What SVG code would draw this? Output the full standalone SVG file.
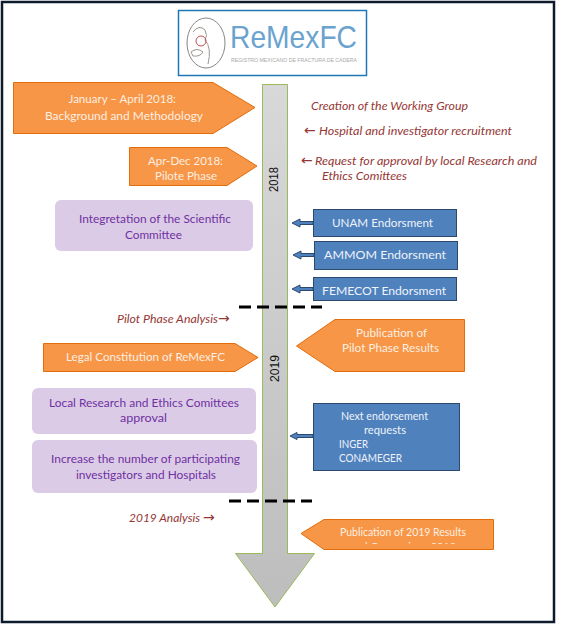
<svg xmlns="http://www.w3.org/2000/svg" width="571" height="624" viewBox="0 0 571 624">
<style>
text{font-family:Lato,"Liberation Sans",sans-serif;font-size:11.500px;text-anchor:start}
.o{fill:#f79646;stroke:#e46c0a;stroke-width:1}
.ot{fill:#fdeee2}
.p{fill:#dbcbe7}
.pt{fill:#7030a0}
.b{fill:#4f81bd;stroke:#2c4a6e;stroke-width:1}
.bt{fill:#eef3fa}
.r{fill:#953735;font-style:italic}
.ar{fill:#953735;font-family:"DejaVu Sans",sans-serif;font-size:14px}
.a{fill:#4f81bd;stroke:#2c4a6e;stroke-width:1}
.d{stroke:#000;stroke-width:3;stroke-dasharray:12 6;fill:none}
.y{fill:#111;font-family:"Liberation Sans",sans-serif;font-size:13px}
</style>
<defs>
<linearGradient id="g" x1="0" y1="0" x2="0" y2="1"><stop offset="0" stop-color="#d8d8d8"/><stop offset="1" stop-color="#bdbdbd"/></linearGradient>
<clipPath id="c"><rect x="300" y="519" width="190" height="25"/></clipPath>
</defs>
<rect width="571" height="624" fill="#fff"/>
<rect x="2" y="2" width="552" height="620" fill="none" stroke="#0d1b2a" stroke-width="2.500"/>
<g id="logo">
<rect x="178.500" y="10.500" width="188" height="65" fill="#fff" stroke="#1f77b8" stroke-width="1.500"/>
<ellipse cx="206" cy="43" rx="19" ry="25" fill="none" stroke="#8a8580"/>
<path d="M193 32q6-8 12-2q3 6 0 10q7 8 3 24M191 52q6-5 12 0q-3 5-10 4z" fill="none" stroke="#9a9590"/>
<circle cx="201" cy="41" r="5" fill="none" stroke="#c0504d"/>
<text x="230" y="48" textLength="127" lengthAdjust="spacingAndGlyphs" style="font-size:32px;fill:#6ba3cf;font-family:'Liberation Sans',sans-serif">ReMexFC</text>
<text x="231" y="62" textLength="126" lengthAdjust="spacingAndGlyphs" style="font-size:6px;fill:#a8a8a8;font-family:'Liberation Sans',sans-serif">REGISTRO MEXICANO DE FRACTURA DE CADERA</text>
</g>
<g id="timeline">
<path d="M262.500 84.500H287.500V553.500H314.500L275 607L235.500 553.500H262.500Z" fill="url(#g)" stroke="#9bbb59"/>
<text class="y" transform="translate(278 192) rotate(-90)" textLength="25" lengthAdjust="spacingAndGlyphs">2018</text>
<text class="y" transform="translate(279 382) rotate(-90)" textLength="27" lengthAdjust="spacingAndGlyphs">2019</text>
</g>
<g id="connectors">
<path class="d" d="M239 307H322"/>
<path class="d" d="M229 501H312"/>
<path class="a" d="M313 221.500H300V219L292 223L300 227V224.500H313Z"/>
<path class="a" d="M314 253.500H301V251L293 255L301 259V256.500H314Z"/>
<path class="a" d="M313 287.500H300V285L292 289L300 293V290.500H313Z"/>
<path class="a" d="M313 434.500H297V432.500L290 436L297 439.500V437.500H313Z"/>
</g>
<g id="n1"><path class="o" d="M13.500 82.500H213L255 107.500L213 133.500H13.500Z"/>
<text class="ot" x="68.500" y="103" textLength="107.500" lengthAdjust="spacingAndGlyphs">January – April 2018:</text><text class="ot" x="45" y="120" textLength="158" lengthAdjust="spacingAndGlyphs">Background and Methodology</text></g>
<g id="n2"><path class="o" d="M129.500 147.500H227L257 166L227 185.500H129.500Z"/>
<text class="ot" x="148" y="165" textLength="75" lengthAdjust="spacingAndGlyphs">Apr-Dec 2018:</text><text class="ot" x="155" y="180" textLength="62" lengthAdjust="spacingAndGlyphs">Pilote Phase</text></g>
<g id="n3"><rect class="p" x="55" y="200" width="198" height="51" rx="6"/>
<text class="pt" x="79" y="223" textLength="152" lengthAdjust="spacingAndGlyphs">Integretation of the Scientific</text><text class="pt" x="125" y="239" textLength="57" lengthAdjust="spacingAndGlyphs">Committee</text></g>
<g id="n4"><text class="r" x="311" y="110" textLength="157" lengthAdjust="spacingAndGlyphs">Creation of the Working Group</text></g>
<g id="n5"><text class="ar" x="304" y="135">←</text><text class="r" x="319" y="135" textLength="193" lengthAdjust="spacingAndGlyphs">Hospital and investigator recruitment</text></g>
<g id="n6"><text class="ar" x="301" y="165">←</text><text class="r" x="315" y="165" textLength="222" lengthAdjust="spacingAndGlyphs">Request for approval by local Research and</text><text class="r" x="322" y="180" textLength="85" lengthAdjust="spacingAndGlyphs">Ethics Comittees</text></g>
<g id="n7"><rect class="b" x="313.500" y="209.500" width="143" height="27"/><text class="bt" x="332" y="227" textLength="101" lengthAdjust="spacingAndGlyphs">UNAM Endorsment</text></g>
<g id="n8"><rect class="b" x="314.500" y="241.500" width="143" height="28"/><text class="bt" x="324" y="259" textLength="122" lengthAdjust="spacingAndGlyphs">AMMOM Endorsment</text></g>
<g id="n9"><rect class="b" x="313.500" y="277.500" width="143" height="23"/><text class="bt" x="322" y="295" textLength="124" lengthAdjust="spacingAndGlyphs">FEMECOT Endorsment</text></g>
<g id="n10"><text class="r" x="117" y="323" textLength="101" lengthAdjust="spacingAndGlyphs">Pilot Phase Analysis</text><text class="ar" x="218" y="323">→</text></g>
<g id="n11"><path class="o" d="M43.500 343.500H235L258 357.500L235 371.500H43.500Z"/><text class="ot" x="66" y="361" textLength="159" lengthAdjust="spacingAndGlyphs">Legal Constitution of ReMexFC</text></g>
<g id="n12"><path class="o" d="M464.500 319.500V371.500H335L296.500 346L335 319.500Z"/><text class="ot" x="356" y="337" textLength="71" lengthAdjust="spacingAndGlyphs">Publication of</text><text class="ot" x="342" y="352" textLength="97" lengthAdjust="spacingAndGlyphs">Pilot Phase Results</text></g>
<g id="n13"><rect class="p" x="32" y="388" width="224" height="46" rx="6"/><text class="pt" x="49" y="407" textLength="190" lengthAdjust="spacingAndGlyphs">Local Research and Ethics Comittees</text><text class="pt" x="120" y="422" textLength="47" lengthAdjust="spacingAndGlyphs">approval</text></g>
<g id="n14"><rect class="p" x="32" y="440" width="225" height="53" rx="6"/><text class="pt" x="51" y="463" textLength="189" lengthAdjust="spacingAndGlyphs">Increase the number of participating</text><text class="pt" x="76" y="479" textLength="140" lengthAdjust="spacingAndGlyphs">investigators and Hospitals</text></g>
<g id="n15"><rect class="b" x="313.500" y="403.500" width="146" height="67"/>
<text class="bt" x="341" y="420" textLength="87" lengthAdjust="spacingAndGlyphs">Next endorsement</text><text class="bt" x="364" y="434" textLength="42" lengthAdjust="spacingAndGlyphs">requests</text><text class="bt" x="339" y="448" textLength="29" lengthAdjust="spacingAndGlyphs">INGER</text><text class="bt" x="339" y="462" textLength="63" lengthAdjust="spacingAndGlyphs">CONAMEGER</text></g>
<g id="n16"><text class="r" x="129" y="522" textLength="71" lengthAdjust="spacingAndGlyphs">2019 Analysis</text><text class="ar" x="203" y="522">→</text></g>
<g id="n17"><path class="o" d="M493.500 519.500V549.500H324L301 533.500L324 519.500Z"/>
<text class="ot" x="340" y="536" textLength="126" lengthAdjust="spacingAndGlyphs">Publication of 2019 Results</text>
<g clip-path="url(#c)"><text class="ot" x="350" y="551" textLength="106" lengthAdjust="spacingAndGlyphs">and Comparison 2018</text></g></g>
</svg>
